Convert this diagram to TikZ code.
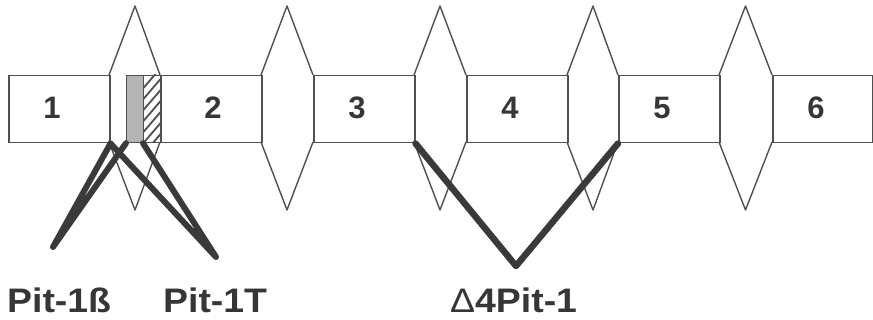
\documentclass[tikz,border=0pt]{standalone}
\usepackage{fontspec}
\setmainfont{Liberation Sans}
\definecolor{linec}{HTML}{505050}
\definecolor{thickc}{HTML}{3A3A3A}
\definecolor{textc}{HTML}{363636}
\definecolor{grayfill}{HTML}{B4B4B4}
\begin{document}
\begin{tikzpicture}[x=1pt,y=-1pt,
  exon/.style={draw=linec, line width=1.5pt, fill=white, minimum width=101pt, minimum height=67pt, inner sep=0pt, anchor=north west},
  intron/.style={draw=linec, line width=1.4pt, line join=round},
  num/.style={font=\fontsize{31}{31}\selectfont\bfseries, text=textc, inner sep=0pt, anchor=base},
  splice/.style={draw=thickc, line width=6pt, line join=round, line cap=round},
  lab/.style={font=\fontsize{34}{34}\selectfont\bfseries, text=textc, inner sep=0pt, anchor=base west},
  insbox/.style={draw=linec, line width=1.2pt, minimum width=17pt, minimum height=67pt, inner sep=0pt, anchor=north west}]
\useasboundingbox (0,0) rectangle (873,320);
% intron vertices
\coordinate (t1) at (135,6);   \coordinate (b1) at (135,210);
\coordinate (t2) at (287,6);   \coordinate (b2) at (287,210);
\coordinate (t3) at (440,6);   \coordinate (b3) at (440,210);
\coordinate (t4) at (593,6);   \coordinate (b4) at (593,210);
\coordinate (t5) at (745.5,6); \coordinate (b5) at (745.5,210);
% exons (positions)
\coordinate (p1) at (8,75);
\coordinate (p2) at (160,75);
\coordinate (p3) at (313,75);
\coordinate (p4) at (466,75);
\coordinate (p5) at (618,75);
\coordinate (p6) at (772,75);
% introns
\draw[intron] (109,75) -- (t1) -- (160,75);
\draw[intron] (109,142) -- (b1) -- (160,142);
\draw[intron] (261,75) -- (t2) -- (313,75);
\draw[intron] (261,142) -- (b2) -- (313,142);
\draw[intron] (414,75) -- (t3) -- (466,75);
\draw[intron] (414,142) -- (b3) -- (466,142);
\draw[intron] (567,75) -- (t4) -- (618,75);
\draw[intron] (567,142) -- (b4) -- (618,142);
\draw[intron] (719,75) -- (t5) -- (772,75);
\draw[intron] (719,142) -- (b5) -- (772,142);
% exons
\node[exon] (e1) at (p1) {};
\node[exon] (e2) at (p2) {};
\node[exon] (e3) at (p3) {};
\node[exon] (e4) at (p4) {};
\node[exon] (e5) at (p5) {};
\node[exon, minimum width=100pt] (e6) at (p6) {};
% inserted segments
\node[insbox, fill=grayfill] (g) at (126,75) {};
\begin{scope}
  \clip (143,75) rectangle (161,142);
  \foreach \k in {0,...,9} {
    \draw[linec, line width=1.8pt] (140,{92+11*\k}) -- (164,{92+11*\k-28});
  }
\end{scope}
\node[insbox] (h) at (143,75) {};
% numbers
\node[num] (n1) at (52,119) {1};
\node[num] (n2) at (213,119) {2};
\node[num] (n3) at (357,119) {3};
\node[num] (n4) at (510,119) {4};
\node[num] (n5) at (662,119) {5};
\node[num] (n6) at (816,119) {6};
% splice connectors
\coordinate (vb) at (53,247);
\coordinate (vt) at (216,257);
\coordinate (vd) at (516,266);
\draw[splice] (e1.south east) -- (vb) -- (g.south west);
\draw[splice] (e1.south east) -- (vt) -- (h.south west);
\draw[splice, line width=6.5pt] (e3.south east) -- (vd) -- (e5.south west);
% labels
\node[lab] (l1) at (7,313) {\scalebox{1.1}[1]{Pit-1ß}};
\node[lab] (l2) at (163,313) {\scalebox{1.1}[1]{Pit-1T}};
\node[lab] (l3) at (450,313) {\scalebox{1.1}[1]{{\mdseries Δ}4Pit-1}};
\end{tikzpicture}
\end{document}
